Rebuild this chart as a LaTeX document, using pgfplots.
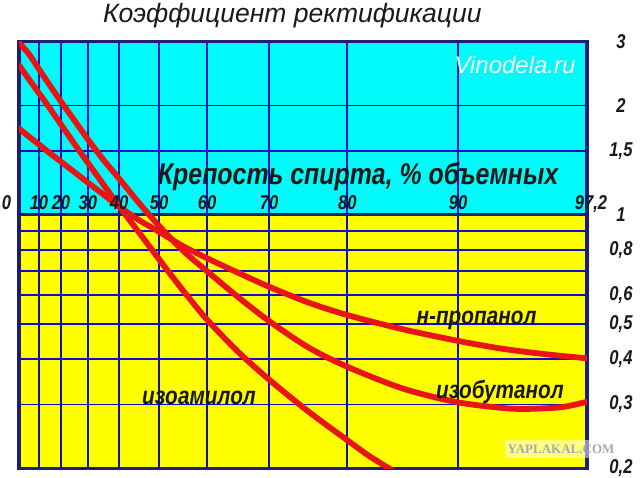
\documentclass[border=0pt]{standalone}
\usepackage{pgfplots}
\usepackage{pgfplotstable}
\pgfplotsset{compat=1.18}
\usepackage{fontspec}
\setmainfont{Liberation Sans}
\newfontfamily\condfont{Liberation Sans}[FakeStretch=0.83]
\newfontfamily\serifwm{Liberation Serif}
\definecolor{cyanbg}{RGB}{0,250,250}
\definecolor{yellowbg}{RGB}{255,255,0}
\definecolor{gridblue}{RGB}{15,15,200}
\definecolor{navy}{RGB}{30,30,120}
\definecolor{curvered}{RGB}{235,20,20}
\definecolor{txt}{RGB}{25,25,25}
\definecolor{wmtext}{RGB}{160,170,180}

% pct = alcohol strength (% vol), pos = its place on the chart's non-linear scale (0..567.8)
\pgfplotstableread{
pct pos y
0 0 2.98
5 9.9 2.77
10 19.8 2.52
15 30.8 2.27
20 41.8 2.05
25 55.2 1.82
30 68.6 1.615
35 84.3 1.416
40 100 1.257
45 120 1.076
50 140 0.931
55 163.9 0.796
60 187.8 0.699
65 218.9 0.593
70 250 0.509
75 289.05 0.431
80 328.1 0.381
85 383.45 0.332
90 438.8 0.304
93 492.56 0.292
95 528.4 0.293
96 546.32 0.296
97.2 567.8 0.305
}\isobutanol

\pgfplotstableread{
pct pos y
0 0 2.58
5 9.9 2.36
10 19.8 2.164
15 30.8 1.962
20 41.8 1.774
25 55.2 1.569
30 68.6 1.392
35 84.3 1.211
40 100 1.055
45 120 0.892
50 140 0.753
55 163.9 0.618
60 187.8 0.514
65 218.9 0.419
70 250 0.351
75 289.05 0.287
80 328.1 0.239
82 350.24 0.216
84 372.38 0.198
}\isoamyl

\pgfplotstableread{
pct pos y
0 0 1.727
5 9.9 1.641
10 19.8 1.562
15 30.8 1.477
20 41.8 1.400
25 55.2 1.311
30 68.6 1.227
35 84.3 1.137
40 100 1.052
45 120 0.966
50 140 0.897
55 163.9 0.819
60 187.8 0.759
65 218.9 0.692
70 250 0.633
75 289.05 0.573
80 328.1 0.529
85 383.45 0.4835
90 438.8 0.449
92.5 483.6 0.427
95 528.4 0.412
97.2 567.8 0.402
}\propanol

\begin{document}
\begin{tikzpicture}[x=1pt,y=1pt]
\begin{axis}[
  set layers,
  at={(19.2pt,9.7pt)}, anchor=south west,
  scale only axis, width=567.8pt, height=426.6pt,
  xmin=0, xmax=567.8, ymin=0.2, ymax=3,
  ymode=log,
  xtick={0,19.8,41.8,68.6,100,140,187.8,250,328.1,438.8,567.8},
  xticklabels={},
  ytick={0.2,0.3,0.4,0.5,0.6,0.8,1,1.5,2,3},
  yticklabels={{0,2},{0,3},{0,4},{0,5},{0,6},{0,8},1,{1,5},2,3},
  minor ytick={0.7,0.9},
  yticklabel pos=right,
  yticklabel style={anchor=center, xshift=34pt, text=txt, font=\condfont\bfseries\itshape\fontsize{20}{20}\selectfont},
  major tick length=0pt, minor tick length=0pt,
  tick style={draw=none},
  xmajorgrids, ymajorgrids, yminorgrids,
  grid style={draw=gridblue, line width=1.8pt},
  minor grid style={draw=gridblue, line width=1.8pt},
  axis line style={draw=navy, line width=3.5pt},
]
\begin{pgfonlayer}{axis background}
\fill[cyanbg] (axis cs:0,1) rectangle (axis cs:567.8,3);
\fill[yellowbg] (axis cs:0,0.2) rectangle (axis cs:567.8,1);
\end{pgfonlayer}
\draw[navy, line width=3.5pt] (axis cs:0,1) -- (axis cs:567.8,1);
\addplot[curvered, line width=5.8pt, smooth, mark=none, line cap=round] table[x=pos,y=y] {\isobutanol};
\addplot[curvered, line width=5.8pt, smooth, mark=none, line cap=round] table[x=pos,y=y] {\isoamyl};
\addplot[curvered, line width=5.8pt, smooth, mark=none, line cap=round] table[x=pos,y=y] {\propanol};
\end{axis}

% x tick labels sit on the 1-line
\begin{scope}[every node/.style={inner sep=0pt, anchor=base, text=txt, font=\condfont\bfseries\itshape\fontsize{20}{20}\selectfont}]
\node at (6.5,268) {0};
\node at (39,268) {10};
\node at (61,268) {20};
\node at (87.8,268) {30};
\node at (119.2,268) {40};
\node at (159.2,268) {50};
\node at (207,268) {60};
\node at (269.2,268) {70};
\node at (347.3,268) {80};
\node at (458,268) {90};
\node at (591,268) {97,2};
\end{scope}

% title and axis caption
\node[inner sep=0pt, anchor=base, text=txt, font=\itshape\fontsize{26.5}{26.5}\selectfont] at (292.4,455.3) {Коэффициент ректификации};
\node[inner sep=0pt, anchor=base, text=txt, font=\condfont\bfseries\itshape\fontsize{30}{30}\selectfont] at (358,293) {Крепость спирта, \% объемных};
\node[inner sep=0pt, anchor=center, text=white, font=\itshape\fontsize{24}{24}\selectfont] at (515,413) {Vinodela.ru};

% curve labels
\begin{scope}[every node/.style={inner sep=0pt, anchor=base, text=txt, font=\condfont\bfseries\itshape\fontsize{25}{25}\selectfont}]
\node at (476.5,153) {н-пропанол};
\node at (500,79.7) {изобутанол};
\node at (199,73) {изоамилол};
\end{scope}

% watermark
\fill[white, opacity=0.5] (505,20) rectangle (615,38);
\node[inner sep=0pt, anchor=center, text=wmtext, font=\serifwm\bfseries\fontsize{13}{13}\selectfont] at (561,29) {YAPLAKAL.COM};

\pgfresetboundingbox
\path[use as bounding box] (0,0) rectangle (640,478);
\end{tikzpicture}
\end{document}
